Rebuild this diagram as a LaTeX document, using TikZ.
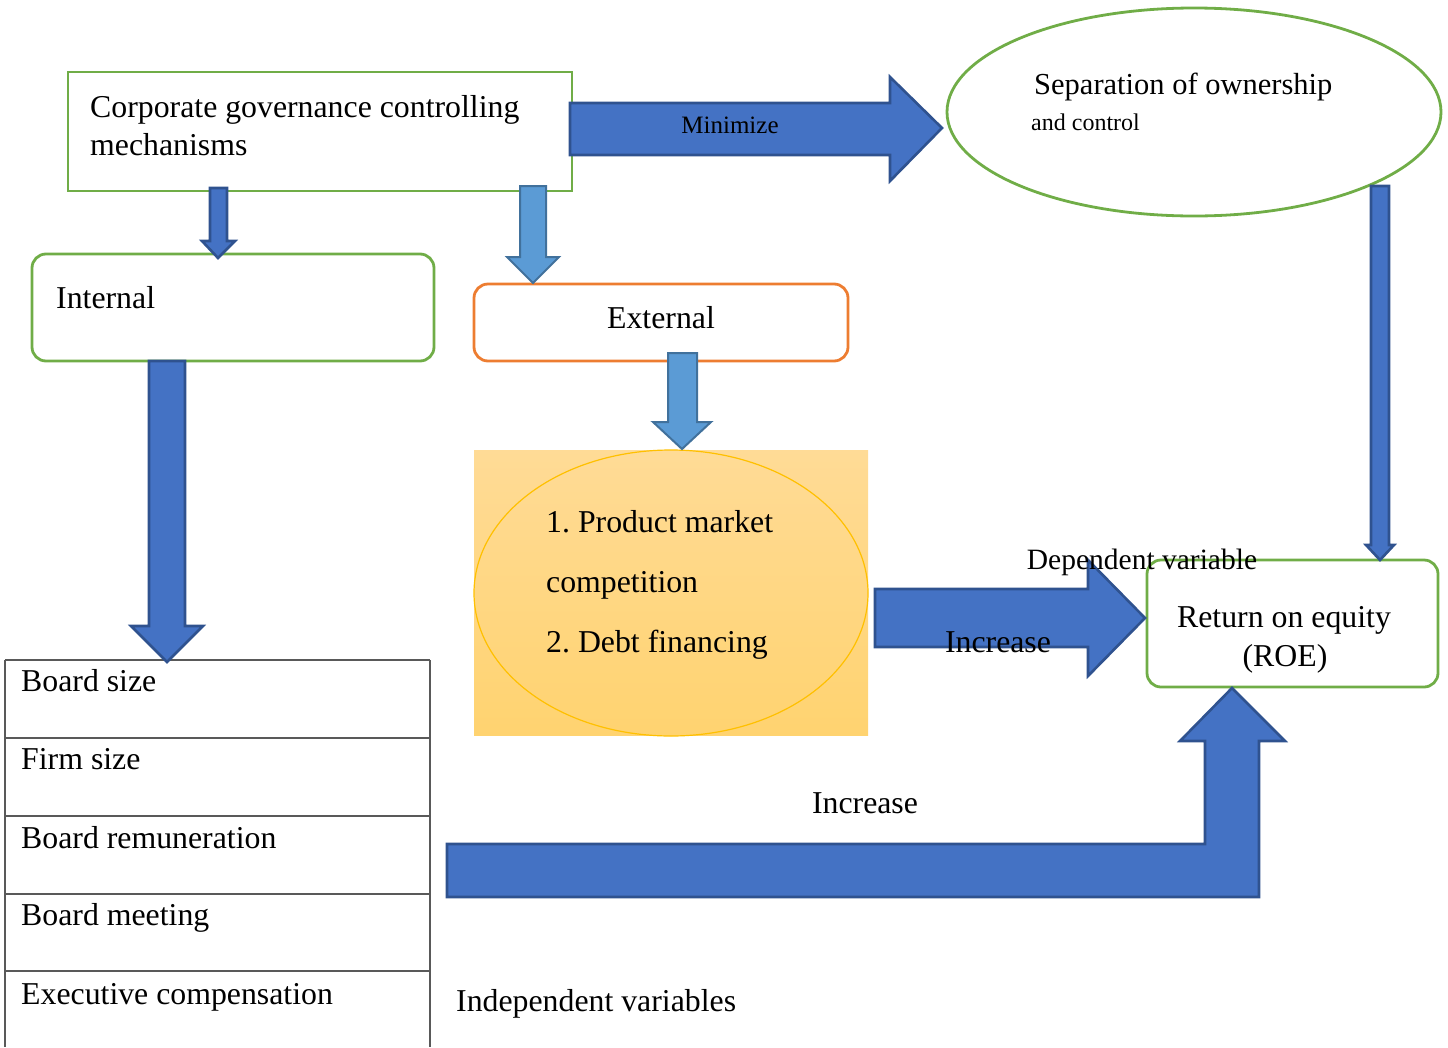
\documentclass[tikz,border=0pt]{standalone}
\usepackage{fontspec}
\setmainfont{Liberation Serif}
\usetikzlibrary{shapes.geometric}
\definecolor{boxgreen}{HTML}{70AD47}
\definecolor{boxorange}{HTML}{ED7D31}
\definecolor{arrowblue}{HTML}{4472C4}
\definecolor{arrowedge}{HTML}{2F528F}
\definecolor{lightblue}{HTML}{5B9BD5}
\definecolor{lightedge}{HTML}{41719C}
\definecolor{goldedge}{HTML}{FFC000}
\definecolor{paletop}{RGB}{255,219,150}
\definecolor{palebot}{RGB}{255,211,112}
\definecolor{gridgray}{HTML}{595959}
\tikzset{
  fs/.style={font=\fontsize{#1}{#1}\selectfont},
  lbl/.style={inner sep=0pt, text height=21pt, text depth=7pt, fs=31.8, yshift=-2.5pt},
  greenbox/.style={draw=boxgreen, line width=2.8pt},
  roundgreen/.style={draw=boxgreen, line width=2.8pt, rounded corners=14pt},
  darkarrow/.style={fill=arrowblue, draw=arrowedge, line width=2.6pt, line join=miter},
  lightarrow/.style={fill=lightblue, draw=lightedge, line width=2pt, line join=miter},
  rowline/.style={draw=gridgray, line width=1.1pt}
}
\begin{document}
\begin{tikzpicture}[x=1pt,y=-1pt]
\useasboundingbox (0,0) rectangle (1448,1047);

% ---- boxes ----
\draw[greenbox] (68,72) rectangle (572,191);
\node[ellipse, draw=boxgreen, line width=2.8pt, minimum width=494pt, minimum height=208pt, inner sep=0pt] (sep) at (1194,112) {};
\draw[roundgreen] (32,254) rectangle (434,361);
\draw[draw=boxorange, line width=2.8pt, rounded corners=14pt] (474,284) rectangle (848,361);
\draw[roundgreen] (1147,560) rectangle (1438,687);

% ---- shaded panel with the ellipse ----
\shade[top color=paletop, bottom color=palebot] (474,450) rectangle (868,735);
\shade[top color=paletop, bottom color=palebot, draw=goldedge, line width=1.2pt] (671,593) ellipse [x radius=197, y radius=143];

% ---- table of internal mechanisms ----
\draw[rowline] (5,660) -- (5,1047);
\draw[rowline] (430,660) -- (430,1047);
\foreach \yy in {660,738,816,894,971} {\draw[rowline] (5,\yy) -- (430,\yy);}

% ---- block arrows ----
\draw[darkarrow] (570,103) -- (890,103) -- (890,77) -- (942,128) -- (890,181) -- (890,155) -- (570,155) -- cycle;
\draw[darkarrow] (210,188) -- (227,188) -- (227,241) -- (235,241) -- (218,258) -- (202,241) -- (210,241) -- cycle;
\draw[lightarrow] (520,186) -- (546,186) -- (546,257) -- (559,257) -- (533,283) -- (507,257) -- (520,257) -- cycle;
\draw[lightarrow] (668,353) -- (697,353) -- (697,422) -- (711,422) -- (682,449) -- (653,422) -- (668,422) -- cycle;
\draw[darkarrow] (149,361) -- (185,361) -- (185,626) -- (203,626) -- (167,662) -- (131,626) -- (149,626) -- cycle;
\draw[darkarrow] (1371,186) -- (1389,186) -- (1389,545) -- (1394,545) -- (1380,560) -- (1366,545) -- (1371,545) -- cycle;
\draw[darkarrow] (875,589) -- (1088,589) -- (1088,560) -- (1145,618) -- (1088,676) -- (1088,647) -- (875,647) -- cycle;
\draw[darkarrow] (447,844) -- (1205,844) -- (1205,741) -- (1180,741) -- (1232,688) -- (1285,741) -- (1259,741) -- (1259,897) -- (447,897) -- cycle;

% ---- labels ----
\node[lbl, anchor=west] (cg1) at (90,108) {Corporate governance controlling};
\node[lbl, anchor=west] (cg2) at (90,146) {mechanisms};
\node[lbl, fs=25, anchor=center] (mini) at (730,124) {Minimize};
\node[lbl, fs=30.5, anchor=west] (sep1) at (1034,85) {Separation of ownership};
\node[lbl, fs=24, text height=17pt, text depth=5pt, anchor=west] (sep2) at (1031,122) {and control};
\node[lbl, anchor=west] (int) at (56,299) {Internal};
\node[lbl, anchor=center] (ext) at (661,319) {External};
\node[lbl, anchor=west] (pm1) at (546,523) {1.\ Product market};
\node[lbl, anchor=west] (pm2) at (546,583) {competition};
\node[lbl, anchor=west] (pm3) at (546,643) {2.\ Debt financing};
\node[lbl, fs=29.5, anchor=center] (dep) at (1142,560) {Dependent variable};
\node[lbl, anchor=center] (inc1) at (998,643) {Increase};
\node[lbl, anchor=center] (roe1) at (1284,618) {Return on equity};
\node[lbl, anchor=center] (roe2) at (1285,657) {(ROE)};
\node[lbl, anchor=center] (inc2) at (865,804) {Increase};
\node[lbl, anchor=west] (r1) at (21,682) {Board size};
\node[lbl, anchor=west] (r2) at (21,760) {Firm size};
\node[lbl, anchor=west] (r3) at (21,839) {Board remuneration};
\node[lbl, anchor=west] (r4) at (21,916) {Board meeting};
\node[lbl, anchor=west] (r5) at (21,995) {Executive compensation};
\node[lbl, anchor=west] (indep) at (456,1002) {Independent variables};
\end{tikzpicture}
\end{document}
